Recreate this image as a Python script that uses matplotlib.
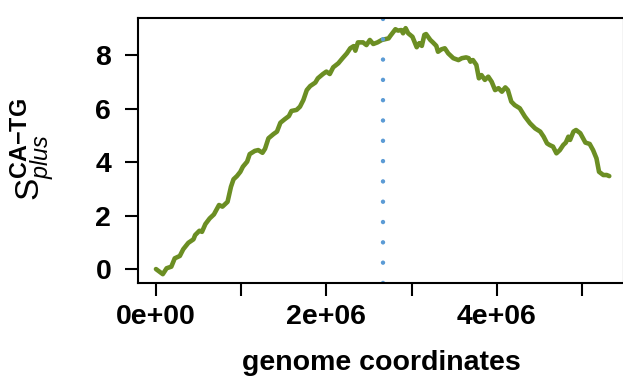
import matplotlib
matplotlib.use("Agg")
import matplotlib.pyplot as plt
import numpy as np

plt.rcParams['font.family'] = ['Liberation Sans', 'DejaVu Sans']
plt.rcParams['mathtext.fontset'] = 'custom'
plt.rcParams['mathtext.rm'] = 'Liberation Sans'
plt.rcParams['mathtext.it'] = 'Liberation Sans:italic'
plt.rcParams['mathtext.bf'] = 'Liberation Sans:bold'

# genome position (Mb) and cumulative skew values
pos_mb = [0.00, 0.08, 0.125, 0.18, 0.22, 0.28, 0.32, 0.38, 0.44, 0.46, 0.51, 0.54, 0.58, 0.63,
          0.68, 0.74, 0.78, 0.84, 0.88, 0.91, 0.95, 0.99, 1.02, 1.07, 1.10, 1.16, 1.20, 1.25,
          1.28, 1.32, 1.38, 1.42, 1.46, 1.51, 1.56, 1.59, 1.65, 1.69, 1.73, 1.77, 1.81, 1.87,
          1.90, 1.96, 2.00, 2.04, 2.08, 2.14, 2.19, 2.24, 2.28, 2.32, 2.34, 2.37, 2.43, 2.47,
          2.51, 2.55, 2.60, 2.65, 2.73, 2.75, 2.81, 2.84, 2.88, 2.90, 2.93, 2.96, 3.01, 3.06,
          3.09, 3.12, 3.15, 3.17, 3.22, 3.25, 3.29, 3.31, 3.35, 3.39, 3.43, 3.49, 3.55, 3.59,
          3.64, 3.67, 3.69, 3.72, 3.76, 3.79, 3.82, 3.86, 3.90, 3.94, 3.98, 4.02, 4.06, 4.10,
          4.13, 4.17, 4.21, 4.27, 4.33, 4.39, 4.45, 4.51, 4.55, 4.59, 4.62, 4.66, 4.70, 4.74,
          4.78, 4.81, 4.84, 4.86, 4.90, 4.93, 4.98, 5.04, 5.09, 5.13, 5.17, 5.20, 5.25, 5.29,
          5.32]
skew = [0.01, -0.18, 0.04, 0.10, 0.41, 0.50, 0.75, 0.99, 1.12, 1.28, 1.44, 1.40, 1.69, 1.90,
        2.05, 2.40, 2.34, 2.52, 3.08, 3.36, 3.48, 3.64, 3.83, 4.02, 4.30, 4.42, 4.45, 4.35,
        4.50, 4.89, 5.05, 5.14, 5.47, 5.60, 5.72, 5.91, 5.95, 6.07, 6.32, 6.69, 6.84, 6.97,
        7.13, 7.29, 7.38, 7.29, 7.54, 7.69, 7.88, 8.06, 8.25, 8.33, 8.16, 8.47, 8.47, 8.37,
        8.56, 8.41, 8.47, 8.56, 8.62, 8.71, 8.96, 8.91, 8.93, 8.81, 9.00, 8.81, 8.68, 8.29,
        8.44, 8.34, 8.75, 8.78, 8.56, 8.47, 8.34, 8.12, 8.21, 8.25, 8.06, 7.88, 7.81, 7.88,
        7.91, 7.88, 7.75, 7.81, 7.63, 7.13, 7.25, 7.07, 7.19, 7.00, 6.69, 6.76, 6.63, 6.79,
        6.69, 6.26, 6.13, 6.01, 5.70, 5.45, 5.26, 5.14, 4.95, 4.70, 4.64, 4.58, 4.33, 4.45,
        4.64, 4.73, 4.95, 4.83, 5.14, 5.20, 5.08, 4.73, 4.68, 4.45, 4.14, 3.64, 3.52, 3.52,
        3.48]
origin_pos = 2.668e6
x_ticks = [0, 1e6, 2e6, 3e6, 4e6, 5e6]
x_tick_labels = ['0e+00', '', '2e+06', '', '4e+06', '']
y_ticks = [0, 2, 4, 6, 8]

x = np.array(pos_mb) * 1e6

W, H = 623, 386
fig = plt.figure(figsize=(W / 100, H / 100), dpi=100)
ax = fig.add_axes([138 / W, 1 - 283 / H, (624 - 138) / W, (283 - 18) / H])

ax.plot(x, skew, color='#6B8E23', lw=3.3, solid_joinstyle='round', solid_capstyle='round')
ax.axvline(origin_pos, color='#5B9BD5', lw=3.2, linestyle=(0, (0.01, 4.56)),
           dash_capstyle='round')

ax.set_xlim(-0.211e6, 5.493e6)
ax.set_ylim(-0.51, 9.38)
ax.set_xticks(x_ticks)
ax.set_xticklabels(x_tick_labels)
ax.set_yticks(y_ticks)
ax.set_yticklabels([str(v) for v in y_ticks])

for s in ax.spines.values():
    s.set_linewidth(1.5)
ax.tick_params(axis='both', length=9.3, width=1.5, labelsize=20.5)
ax.tick_params(axis='x', pad=6)
ax.tick_params(axis='y', pad=10)
for lab in ax.get_xticklabels() + ax.get_yticklabels():
    lab.set_fontweight('bold')

ax.set_xlabel('genome coordinates', fontsize=20.5, fontweight='bold', labelpad=14)
fig.text(33 / W, 1 - 150 / H, r'$\mathrm{S}_{\mathit{plus}}^{\mathbf{CA{-}TG}}$', rotation=90,
         fontsize=24, ha='center', va='center')

fig.savefig('out.png', dpi=100)
